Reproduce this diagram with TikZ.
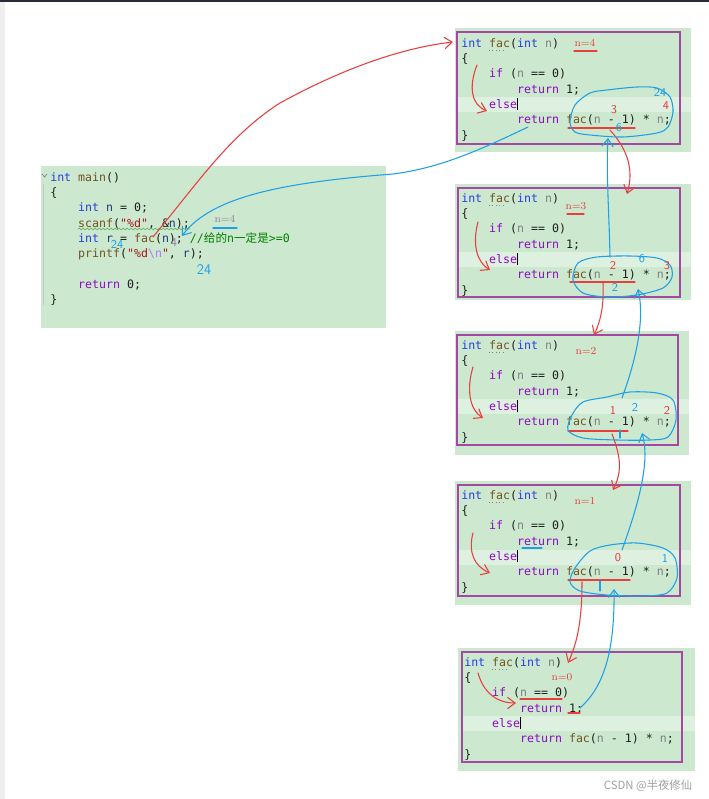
\documentclass[tikz,border=0pt]{standalone}
\usepackage{fontspec}
\setmonofont{DejaVu Sans Mono}
\newfontfamily\cjkfont{Noto Sans CJK SC}
\usetikzlibrary{arrows.meta,decorations.pathmorphing}
\definecolor{codebg}{RGB}{204,232,207}
\definecolor{bandbg}{RGB}{222,240,224}
\definecolor{boxpurple}{RGB}{163,73,164}
\definecolor{kwblue}{RGB}{40,60,230}
\definecolor{fnbrown}{RGB}{116,83,31}
\definecolor{ctlpurple}{RGB}{143,8,196}
\definecolor{pargray}{RGB}{128,128,128}
\definecolor{varblue}{RGB}{31,55,127}
\definecolor{strred}{RGB}{163,21,21}
\definecolor{escpurple}{RGB}{183,118,251}
\definecolor{cmtgreen}{RGB}{0,128,0}
\definecolor{plaintext}{RGB}{30,30,30}
\definecolor{penred}{RGB}{232,62,62}
\definecolor{penblue}{RGB}{30,160,230}
\definecolor{notegray}{RGB}{150,125,160}
\definecolor{sidegray}{RGB}{238,238,238}
\definecolor{topbar}{RGB}{40,44,52}
\newcommand{\ckw}[1]{\textcolor{kwblue}{#1}}
\newcommand{\cfn}[1]{\textcolor{fnbrown}{#1}}
\newcommand{\cctl}[1]{\textcolor{ctlpurple}{#1}}
\newcommand{\cpar}[1]{\textcolor{pargray}{#1}}
\newcommand{\cvar}[1]{\textcolor{varblue}{#1}}
\newcommand{\cstr}[1]{\textcolor{strred}{#1}}
\newcommand{\cesc}[1]{\textcolor{escpurple}{#1}}
\newcommand{\ccmt}[1]{\textcolor{cmtgreen}{#1}}
\newcommand{\caret}{\textcolor{black}{\rule[-1.5pt]{0.5pt}{9.5pt}}}
\newcommand{\faccode}{%
  \ckw{int} \cfn{fac}(\ckw{int} \cpar{n})\\
  \{\\
  \ \ \ \ \cctl{if} (\cpar{n} == 0)\\
  \ \ \ \ \ \ \ \ \cctl{return} 1;\\
  \ \ \ \ \cctl{else}\caret\\
  \ \ \ \ \ \ \ \ \cctl{return} \cfn{fac}(\cpar{n} - 1) * \cpar{n};\\
  \}}
\newcommand{\maincode}{%
  \ckw{int} \cfn{main}()\\
  \{\\
  \ \ \ \ \ckw{int} \cvar{n} = 0;\\
  \ \ \ \ \cfn{scanf}(\cstr{"\%d"}, \&\cvar{n});\\
  \ \ \ \ \ckw{int} \cvar{r} = \cfn{fac}(\cvar{n}); \ccmt{//{\cjkfont 给的}n{\cjkfont 一定是}>=0}\\
  \ \ \ \ \cfn{printf}(\cstr{"\%d\cesc{\textbackslash n}"}, \cvar{r});\\
  \mbox{}\\
  \ \ \ \ \cctl{return} 0;\\
  \}}
\tikzset{
  codefill/.style={fill=codebg},
  curline/.style={fill=bandbg},
  facframe/.style={draw=boxpurple,line width=1.3pt},
  codetext/.style={anchor=base west,inner sep=0pt,align=left,text=plaintext,
    font=\ttfamily\fontsize{8.7}{11.5}\selectfont},
  guide/.style={draw=gray!45,line width=0.5pt},
  dotline/.style={draw=gray,dotted,line width=0.6pt},
  wavy/.style={draw=cmtgreen!60,line width=0.5pt,decorate,
    decoration={snake,amplitude=0.6pt,segment length=3pt}},
  redpen/.style={draw=penred,line width=0.8pt,line cap=round,line join=round},
  bluepen/.style={draw=penblue,line width=0.8pt,line cap=round,line join=round},
  penarrow/.style={-{Straight Barb[length=2mm,width=3mm]}},
  nlabel/.style={font=\fontsize{8}{8}\selectfont,text=penred,inner sep=0pt},
  redmark/.style={font=\sffamily\fontsize{9}{9}\selectfont,text=penred,inner sep=0pt},
  bluemark/.style={font=\sffamily\fontsize{9}{9}\selectfont,text=penblue,inner sep=0pt},
  watermark/.style={font=\cjkfont\fontsize{8.5}{8.5}\selectfont,text=gray!75,inner sep=0pt}
}
\begin{document}
\begin{tikzpicture}[x=0.75pt,y=-0.75pt]
  \useasboundingbox (0,0) rectangle (709,799);
  \fill[sidegray] (0,0) rectangle (5,799);
  \fill[topbar] (0,0) rectangle (709,2);

  % main (base anchor sits on the last line)
  \fill[codefill] (41,166) rectangle (386,328);
  \draw[guide] (43,184) -- (43,305);
  \draw[guide,draw=gray] (42,174) -- (44.5,177) -- (47,174);
  \node[codetext] (main) at (50,303.7) {\maincode};
  \draw[wavy] (78,229) -- (190,229);

  % fac boxes
  \fill[codefill] (455,28) rectangle (691,152);
  \fill[curline] (457,97) rectangle (691,112);
  \draw[facframe] (457,32) rectangle (680,144);
  \node[codetext] (fac4) at (461,139) {\faccode};
  \draw[dotline] (489,50) -- (506,50);

  \fill[codefill] (455,184) rectangle (691,300);
  \fill[curline] (457,252) rectangle (691,267);
  \draw[facframe] (458,188) rectangle (680,297);
  \node[codetext] (fac3) at (461,294) {\faccode};
  \draw[dotline] (489,205) -- (506,205);

  \fill[codefill] (455,331) rectangle (689,455);
  \fill[curline] (457,399) rectangle (689,414);
  \draw[facframe] (457,335) rectangle (678,445);
  \node[codetext] (fac2) at (461,441) {\faccode};
  \draw[dotline] (489,352) -- (506,352);

  \fill[codefill] (455,481) rectangle (691,605);
  \fill[curline] (457,550) rectangle (691,565);
  \draw[facframe] (458,485) rectangle (680,596);
  \node[codetext] (fac1) at (461,591) {\faccode};
  \draw[dotline] (489,502) -- (506,502);

  \fill[codefill] (458,648) rectangle (695,771);
  \fill[curline] (461,716) rectangle (695,731);
  \draw[facframe] (462,652) rectangle (682,762);
  \node[codetext] (fac0) at (464,758) {\faccode};
  \draw[dotline] (492,669) -- (509,669);

  % arrow ends
  \coordinate (call4) at (153,237);
  \coordinate (entry4) at (453,42);
  \coordinate (ret4) at (528,127);
  \coordinate (back4) at (182,236);
  \coordinate (call3) at (610,130);
  \coordinate (entry3) at (627,194);
  \coordinate (ret3) at (610,257);
  \coordinate (back3) at (608,138);
  \coordinate (call2) at (603,283);
  \coordinate (entry2) at (594,335);
  \coordinate (ret2) at (622,398);
  \coordinate (back2) at (638,289);
  \coordinate (call1) at (612,434);
  \coordinate (entry1) at (613,490);
  \coordinate (ret1) at (622,550);
  \coordinate (back1) at (642,433);
  \coordinate (call0) at (582,582);
  \coordinate (entry0) at (568,663);
  \coordinate (ret0) at (580,708);
  \coordinate (back0) at (614,589);

  % calls (red) and returns (blue)
  \draw[redpen,penarrow] (call4) .. controls (200,180) and (230,135) .. (280,103)
    .. controls (340,70) and (400,48) .. (entry4);
  \draw[bluepen,penarrow] (ret4) .. controls (480,150) and (440,168) .. (393,174)
    .. controls (290,182) and (212,195) .. (back4);
  \draw[redpen,penarrow] (call3) .. controls (628,150) and (634,170) .. (entry3);
  \draw[bluepen,penarrow] (ret3) .. controls (609,210) and (606,170) .. (back3);
  \draw[redpen,penarrow] (call2) .. controls (604,305) and (601,320) .. (entry2);
  \draw[bluepen,penarrow] (ret2) .. controls (636,360) and (645,320) .. (back2);
  \draw[redpen,penarrow] (call1) .. controls (620,455) and (623,470) .. (entry1);
  \draw[bluepen,penarrow] (ret1) .. controls (640,500) and (650,460) .. (back1);
  \draw[redpen,penarrow] (call0) .. controls (582,625) and (576,645) .. (entry0);
  \draw[bluepen,penarrow] (ret0) .. controls (600,690) and (615,660) .. (back0);

  % else jumps
  \draw[redpen,penarrow] (477,65) .. controls (468,88) and (472,105) .. (487,111);
  \draw[redpen,penarrow] (478,222) .. controls (472,245) and (477,262) .. (490,270);
  \draw[redpen,penarrow] (473,367) .. controls (466,390) and (470,410) .. (483,418);
  \draw[redpen,penarrow] (473,533) .. controls (468,552) and (474,566) .. (490,573);
  \draw[redpen,penarrow] (478,673) .. controls (484,694) and (498,703) .. (516,703);

  % underlines
  \draw[redpen] (568,128) -- (635,128);
  \draw[redpen] (570,282) -- (635,282);
  \draw[redpen] (568,431) -- (628,431);
  \draw[redpen] (568,580) -- (630,580);
  \draw[redpen] (520,699) -- (562,699);
  \draw[redpen] (568,713) -- (580,713);
  \draw[bluepen] (522,548) -- (542,548);
  \draw[bluepen] (620,430) -- (620,438);
  \draw[bluepen] (600,581) -- (600,591);

  % result loops
  \draw[bluepen] plot[smooth cycle] coordinates {(570,122) (575,105) (590,93) (607,90)
    (637,87) (657,88) (670,97) (673,112) (668,127) (657,133) (623,137) (590,135) (575,132)};
  \draw[bluepen] plot[smooth cycle] coordinates {(573,280) (578,263) (597,257) (630,256)
    (657,258) (670,265) (672,277) (663,288) (637,295) (607,297) (583,293)};
  \draw[bluepen] plot[smooth cycle] coordinates {(568,430) (572,415) (583,402) (607,397)
    (630,392) (657,393) (673,400) (676,420) (668,437) (650,440) (617,440) (583,438)};
  \draw[bluepen] plot[smooth cycle] coordinates {(570,582) (575,568) (590,551) (610,545)
    (637,543) (663,548) (675,558) (677,578) (667,593) (643,596) (607,595) (580,591)};

  % n values
  \node[nlabel] (n4) at (585,43) {n=4};
  \draw[redpen] (574,51) -- (597,51);
  \node[nlabel] (n3) at (576,206) {n=3};
  \draw[redpen] (567,214) -- (584,214);
  \node[nlabel] (n2) at (586,351) {n=2};
  \node[nlabel] (n1) at (585,501) {n=1};
  \node[nlabel] (n0) at (562,677) {n=0};
  \node[nlabel,text=notegray] (nmain) at (225,219) {n=4};
  \draw[bluepen] (213,228) -- (237,228);

  % digits
  \node[redmark] at (614,110) {3};
  \node[redmark] at (666,106) {4};
  \node[bluemark] at (660,92) {24};
  \node[bluemark] at (619,128) {6};
  \node[redmark] at (613,265) {2};
  \node[redmark] at (667,266) {3};
  \node[bluemark] at (642,259) {6};
  \node[bluemark] at (615,287) {2};
  \node[redmark] at (613,410) {1};
  \node[bluemark] at (635,407) {2};
  \node[redmark] at (667,410) {2};
  \node[redmark] at (618,558) {0};
  \node[bluemark] at (665,558) {1};
  \node[bluemark] at (117,244) {24};
  \node[redmark,text=notegray] at (174,243) {4};
  \node[bluemark,font=\sffamily\fontsize{11}{11}\selectfont] at (204,270) {24};

  \node[watermark] (mark) at (648,786) {CSDN @半夜修仙};
\end{tikzpicture}
\end{document}
